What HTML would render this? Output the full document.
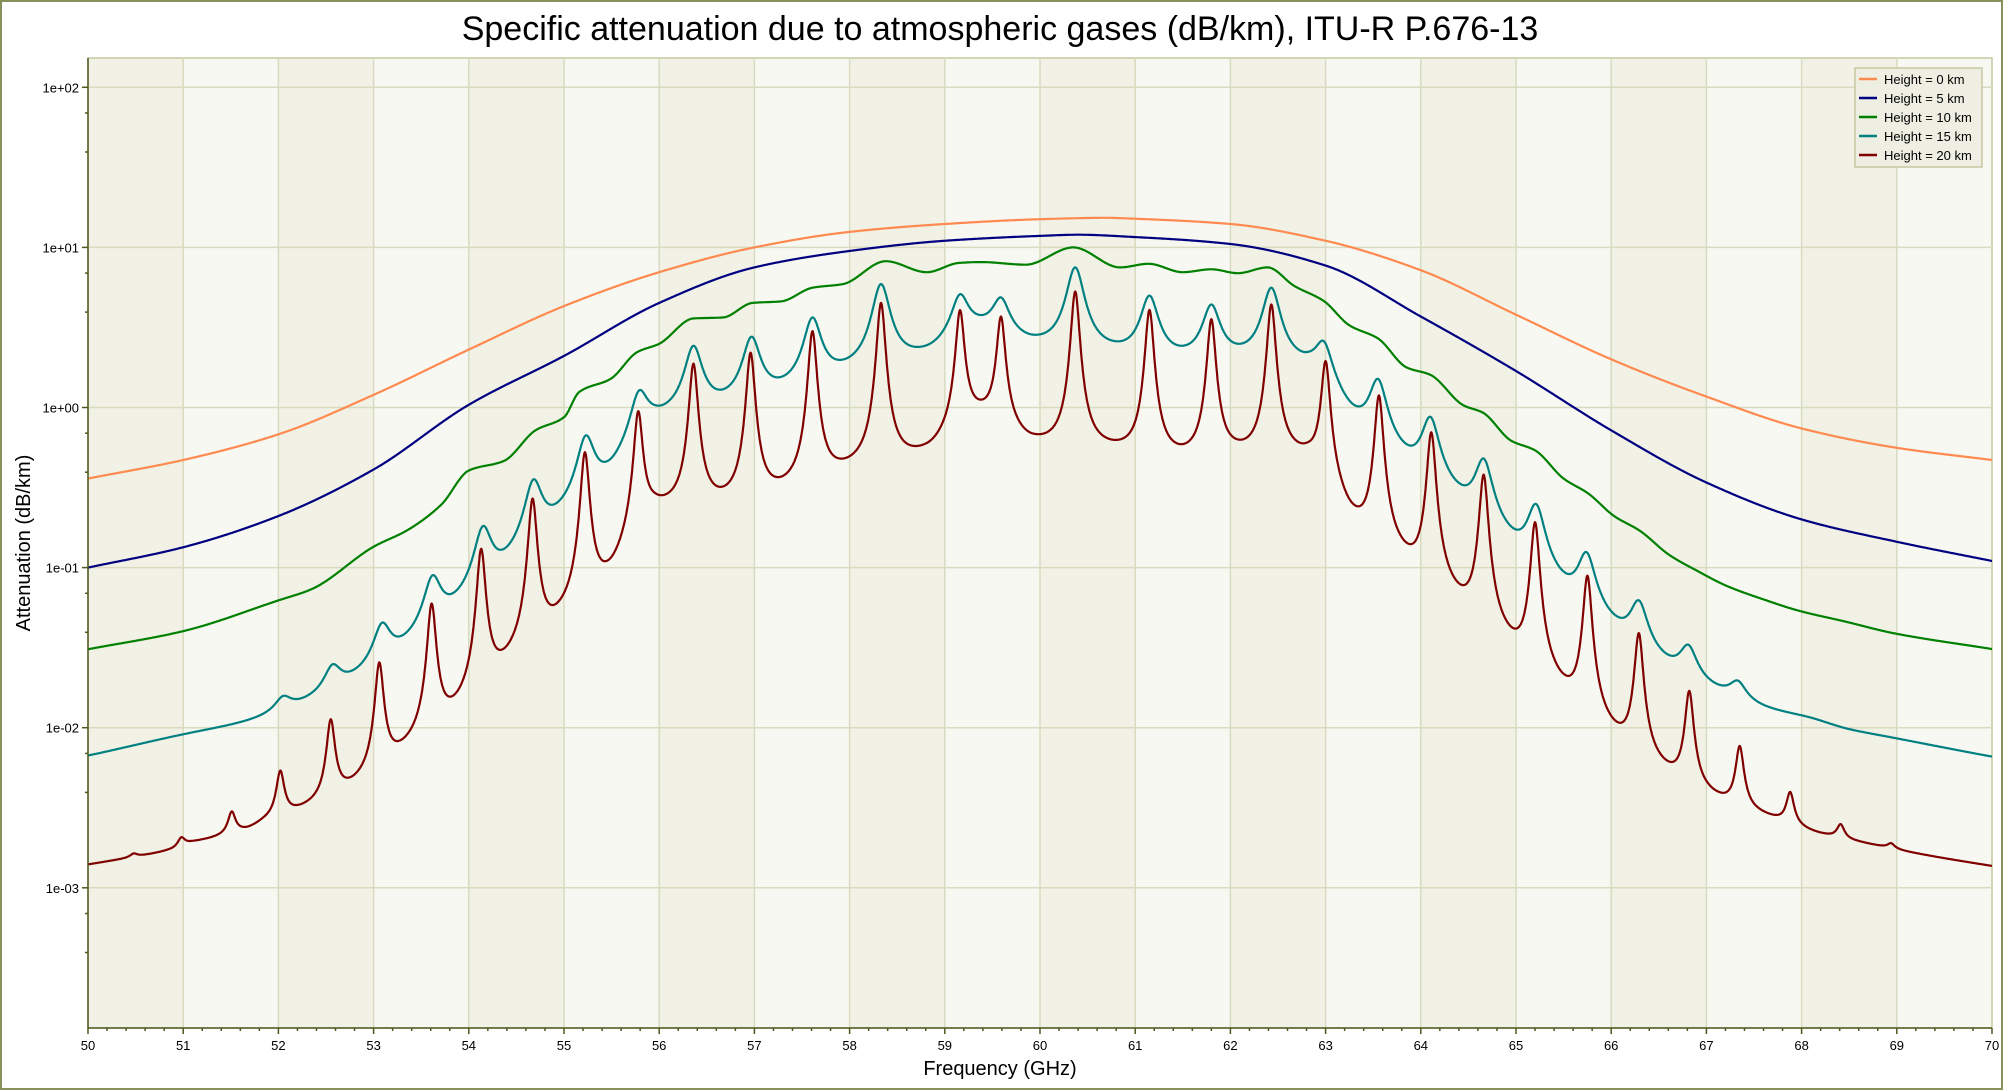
<!DOCTYPE html>
<html><head><meta charset="utf-8"><style>
html,body{margin:0;padding:0;background:#fff}
svg{display:block}
text{font-family:"Liberation Sans","DejaVu Sans",sans-serif}
</style></head><body>
<svg id="s" width="2003" height="1090" xmlns="http://www.w3.org/2000/svg">
<rect x="1" y="1" width="2001" height="1088" fill="#fff" stroke="#86925c" stroke-width="2"/>
<g id="bg"></g>
<g id="grid"></g>
<g id="curves" fill="none" stroke-width="2.2" stroke-linejoin="round"></g>
<g id="axes"></g>
<text x="1000" y="40" font-size="34" text-anchor="middle" fill="#000">Specific attenuation due to atmospheric gases (dB/km), ITU-R P.676-13</text>
<text x="1000" y="1075" font-size="20" text-anchor="middle" fill="#000">Frequency (GHz)</text>
<text transform="translate(30,543) rotate(-90)" font-size="20" text-anchor="middle" fill="#000">Attenuation (dB/km)</text>
<g>
<rect x="1855" y="68" width="127" height="99" fill="#eeeee2" stroke="#c5c9a0" stroke-width="1.5"/>
<line x1="1859" x2="1877" y1="79" y2="79" stroke="#ff8a50" stroke-width="2.5"/>
<line x1="1859" x2="1877" y1="98" y2="98" stroke="#000080" stroke-width="2.5"/>
<line x1="1859" x2="1877" y1="117" y2="117" stroke="#008000" stroke-width="2.5"/>
<line x1="1859" x2="1877" y1="136" y2="136" stroke="#008080" stroke-width="2.5"/>
<line x1="1859" x2="1877" y1="155" y2="155" stroke="#800000" stroke-width="2.5"/>
<g font-size="13" fill="#000">
<text x="1884" y="84">Height = 0 km</text>
<text x="1884" y="103">Height = 5 km</text>
<text x="1884" y="122">Height = 10 km</text>
<text x="1884" y="141">Height = 15 km</text>
<text x="1884" y="160">Height = 20 km</text>
</g></g>
</svg>
<script>
var NS="http://www.w3.org/2000/svg";
var L=88,R=1992,T=58,B=1028;
function X(f){return L+(f-50)*(R-L)/20;}
function Y(v){return 87.3+(2-Math.log10(v))*160.1;}
function el(p,tag,a,txt){var e=document.createElementNS(NS,tag);for(var k in a)e.setAttribute(k,a[k]);if(txt!=null)e.textContent=txt;p.appendChild(e);return e;}
var bg=document.getElementById('bg'),grid=document.getElementById('grid'),ax=document.getElementById('axes'),cv=document.getElementById('curves');
for(var i=0;i<20;i++){el(bg,'rect',{x:X(50+i),y:T,width:X(51)-X(50),height:B-T,fill:i%2?'#f8f8f3':'#f1f1e6'});}
el(bg,'rect',{x:L,y:T,width:R-L,height:B-T,fill:'none',stroke:'#c5c9a0','stroke-width':1.5});
for(var i=1;i<20;i++)el(grid,'line',{x1:X(50+i),x2:X(50+i),y1:T,y2:B,stroke:'#d8dbc0','stroke-width':1.5});
var labs=['1e+02','1e+01','1e+00','1e-01','1e-02','1e-03'];
for(var d=0;d<6;d++){var y=Y(Math.pow(10,2-d));
 el(grid,'line',{x1:L,x2:R,y1:y,y2:y,stroke:'#d8dbc0','stroke-width':1.5});
 el(ax,'line',{x1:L-6,x2:L,y1:y,y2:y,stroke:'#4c5a20','stroke-width':1.5});
 el(ax,'text',{x:L-9,y:y+5,'font-size':13,'text-anchor':'end'},labs[d]);}
for(var d=-1;d<6;d++){[25.7,64.7].forEach(function(o){var y=Y(Math.pow(10,2-d))+o;if(y>T&&y<B)el(ax,'line',{x1:L-3,x2:L,y1:y,y2:y,stroke:'#4c5a20','stroke-width':1.5});});}
el(ax,'line',{x1:L,x2:L,y1:T,y2:B,stroke:'#4c5a20','stroke-width':1.5});
el(ax,'line',{x1:L,x2:R,y1:B,y2:B,stroke:'#4c5a20','stroke-width':1.5});
for(var i=0;i<=100;i++){var x=X(50+i*0.2),maj=i%5==0;
 el(ax,'line',{x1:x,x2:x,y1:B,y2:B+(maj?6:3),stroke:'#4c5a20','stroke-width':1.5});
 if(maj)el(ax,'text',{x:x,y:B+22,'font-size':13,'text-anchor':'middle'},String(50+i/5));}

function mono(pts){
 var n=pts.length,xs=pts.map(function(p){return p[0];}),ys=pts.map(function(p){return Math.log10(p[1]);});
 var dl=[],m=[];for(var i=0;i<n-1;i++)dl.push((ys[i+1]-ys[i])/(xs[i+1]-xs[i]));
 m[0]=dl[0];m[n-1]=dl[n-2];
 for(var i=1;i<n-1;i++){if(dl[i-1]*dl[i]<=0)m[i]=0;else{var w1=2*(xs[i+1]-xs[i])+(xs[i]-xs[i-1]),w2=(xs[i+1]-xs[i])+2*(xs[i]-xs[i-1]);m[i]=(w1+w2)/(w1/dl[i-1]+w2/dl[i]);}}
 return {ev:function(f){var i=0;while(i<n-2&&f>xs[i+1])i++;var h=xs[i+1]-xs[i],t=(f-xs[i])/h;t=Math.max(0,Math.min(1,t));
  var t2=t*t,t3=t2*t;var r=(2*t3-3*t2+1)*ys[i]+(t3-2*t2+t)*h*m[i]+(-2*t3+3*t2)*ys[i+1]+(t3-t2)*h*m[i+1];return Math.pow(10,r);}};}
function simple(pts){return mono(pts).ev;}
function lineModel(valleys,peaks,w){
 var bv=valleys.map(function(p){return [p[0],p[1]];});
 var s=peaks.map(function(p){return p[1]*0.5;});
 var base=mono(bv);
 function ev(f){var y=base.ev(f);for(var i=0;i<peaks.length;i++){var d=f-peaks[i][0];y+=s[i]*w*w/(d*d+w*w);}return y;}
 for(var it=0;it<80;it++){
  for(var i=0;i<peaks.length;i++){var c=ev(peaks[i][0]);var other=c-s[i];s[i]=Math.max(0,peaks[i][1]-other);}
  for(var j=0;j<bv.length;j++){var c=ev(valleys[j][0]);bv[j][1]=Math.max(valleys[j][1]*0.3,bv[j][1]*Math.pow(valleys[j][1]/c,0.8));}
  base=mono(bv);}
 return ev;}
var h0=simple([[50,0.36],[51,0.47],[52,0.68],[53,1.2],[54,2.3],[55,4.3],[56,7],[57,10],[58,12.5],[59,14],[60,15],[60.7,15.3],[61,15.1],[62,14],[63,11],[64,7.2],[65,3.8],[66,2.0],[67,1.17],[68,0.74],[69,0.56],[70,0.47]]);
var h5=simple([[50,0.1],[51,0.134],[52,0.21],[53,0.41],[54,1.04],[55,2.1],[56,4.5],[57,7.5],[58,9.5],[59,11],[60,11.8],[60.4,12],[61,11.6],[62,10.5],[63,7.7],[64,3.7],[65,1.69],[66,0.72],[67,0.34],[68,0.2],[69,0.145],[70,0.11]]);
var h10=simple([[50,0.0309],[51,0.0401],[52,0.0624],[52.35,0.0734],[53.0,0.135],[53.36,0.172],[53.71,0.247],[54.0,0.404],[54.37,0.464],[54.7,0.72],[55.0,0.87],[55.16,1.25],[55.49,1.51],[55.77,2.22],[56.0,2.5],[56.36,3.6],[56.67,3.65],[56.98,4.5],[57.28,4.6],[57.61,5.6],[57.93,5.9],[58.38,8.2],[58.81,7.0],[59.15,8.0],[59.38,8.1],[59.85,7.8],[60.35,10],[60.84,7.5],[61.14,7.9],[61.5,7.0],[61.8,7.3],[62.08,6.9],[62.39,7.5],[62.67,5.75],[62.98,4.63],[63.25,3.26],[63.55,2.7],[63.85,1.78],[64.1,1.6],[64.45,1.03],[64.65,0.93],[64.95,0.62],[65.2,0.54],[65.5,0.36],[65.76,0.29],[66.03,0.21],[66.3,0.17],[66.61,0.12],[66.91,0.095],[67.21,0.077],[67.61,0.063],[67.96,0.054],[68.46,0.046],[68.96,0.039],[70,0.031]]);
var h15=lineModel(
 [[50,0.0067],[51,0.0091],[51.7,0.0113],[52.19,0.0151],[52.75,0.0225],[53.28,0.0373],[53.8,0.0683],[54.37,0.131],[54.9,0.249],[55.46,0.464],[55.97,1.03],[56.67,1.30],[57.29,1.56],[57.94,2.0],[58.81,2.45],[59.38,3.78],[59.93,2.85],[60.82,2.59],[61.49,2.43],[62.09,2.5],[62.8,2.22],[63.31,1.03],[63.88,0.58],[64.43,0.33],[64.99,0.174],[65.53,0.092],[66.08,0.049],[66.61,0.0284],[67.16,0.0184],[67.64,0.0136],[68.04,0.0118],[68.5,0.0098],[68.99,0.0086],[70,0.0066]],
 [[52.05,0.0158],[52.57,0.0249],[53.09,0.0453],[53.62,0.0896],[54.15,0.182],[54.68,0.356],[55.23,0.67],[55.79,1.28],[56.36,2.43],[56.97,2.77],[57.61,3.65],[58.33,5.9],[59.16,5.1],[59.59,4.87],[60.37,7.5],[61.15,5.0],[61.8,4.4],[62.43,5.6],[62.98,2.6],[63.55,1.51],[64.1,0.875],[64.66,0.48],[65.21,0.25],[65.74,0.125],[66.29,0.0625],[66.81,0.033],[67.33,0.0197]],0.10);
var h20=lineModel(
 [[50,0.0014],[50.9,0.0018],[51.11,0.00197],[51.32,0.0021],[51.65,0.0024],[51.88,0.0029],[52.16,0.0033],[52.37,0.0038],[52.75,0.0049],[53.29,0.0084],[53.83,0.0158],[54.36,0.031],[54.92,0.0597],[55.47,0.112],[55.98,0.287],[56.66,0.32],[57.28,0.37],[57.93,0.48],[58.81,0.6],[59.38,1.12],[59.92,0.69],[60.83,0.63],[61.49,0.59],[62.09,0.63],[62.79,0.6],[63.29,0.25],[63.87,0.141],[64.43,0.078],[64.98,0.0417],[65.52,0.0213],[66.06,0.0109],[66.6,0.00618],[67.15,0.00394],[67.71,0.00286],[68.2,0.0022],[68.7,0.0019],[69.2,0.00165],[70,0.00137]],
 [[50.48,0.00164],[50.98,0.00207],[51.51,0.003],[52.02,0.0054],[52.55,0.0113],[53.06,0.0256],[53.61,0.0597],[54.13,0.131],[54.67,0.27],[55.22,0.526],[55.78,0.95],[56.36,1.88],[56.96,2.2],[57.61,3.0],[58.33,4.5],[59.16,4.06],[59.59,3.7],[60.37,5.3],[61.15,4.07],[61.8,3.56],[62.43,4.4],[63.0,1.95],[63.56,1.19],[64.11,0.70],[64.66,0.381],[65.2,0.192],[65.75,0.089],[66.29,0.039],[66.82,0.017],[67.35,0.0077],[67.88,0.00397],[68.41,0.0025],[68.94,0.0019]],0.045);
function draw(fn,col){var d='';for(var i=0;i<=4000;i++){var f=50+i*0.005,v=fn(f);d+=(i?'L':'M')+X(f).toFixed(1)+','+Y(v).toFixed(1);}el(cv,'path',{d:d,stroke:col});}
draw(h0,'#ff8a50');draw(h5,'#000080');draw(h10,'#008000');draw(h15,'#008080');draw(h20,'#800000');
</script>
</body></html>
